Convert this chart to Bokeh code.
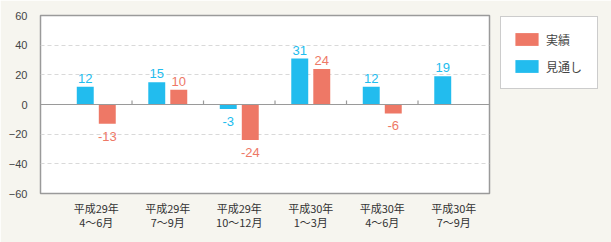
from bokeh.plotting import figure
from bokeh.models import (Range1d, FixedTicker, ColumnDataSource, Span, Legend,
                          LegendItem, LinearAxis)
from bokeh.core.properties import value
from bokeh.embed import file_html
from bokeh.resources import INLINE

# Quarterly survey: forecast (見通し) vs actual (実績)
periods = ["平成29年\n4～6月", "平成29年\n7～9月", "平成29年\n10～12月",
           "平成30年\n1～3月", "平成30年\n4～6月", "平成30年\n7～9月"]
forecast = [12, 15, -3, 31, 12, 19]
actual = [-13, 10, -24, 24, -6, None]
y_ticks = [-60, -40, -20, 0, 20, 40, 60]

BLUE = "#22bcee"
RED = "#ee7866"
BG = "#f6f5ef"
FRAME = "#9a9a9a"
NUM_FONT = "Liberation Sans"
JP_FONT = "Noto Sans CJK JP"

n = len(periods)
centers = [i + 0.5 for i in range(n)]
offset = 0.154
bar_w = 0.237

p = figure(frame_width=449, frame_height=178, output_backend="svg", toolbar_location=None,
           x_range=Range1d(-0.28, n), y_range=Range1d(-60, 60),
           x_axis_location=None, y_axis_location=None,
           min_border_left=40, min_border_right=122,
           min_border_top=15, min_border_bottom=49)
p.background_fill_color = "white"
p.border_fill_color = BG
p.outline_line_color = FRAME
p.outline_line_width = 1.5

# grid: dashed lines at +-20/+-40 only
p.xgrid.visible = False
p.ygrid.ticker = FixedTicker(ticks=[-40, -20, 20, 40])
p.ygrid.grid_line_color = "#d9d9d9"
p.ygrid.grid_line_dash = "4 3"

# y axis labels
yax = LinearAxis(ticker=FixedTicker(ticks=y_ticks))
yax.axis_line_color = None
yax.major_tick_line_color = None
yax.minor_tick_line_color = None
yax.major_label_standoff = 7
yax.major_label_text_font = NUM_FONT
yax.major_label_text_font_size = "11px"
yax.major_label_text_color = "#444444"
p.add_layout(yax, "left")

# x axis: two-line period labels
xax = LinearAxis(ticker=FixedTicker(ticks=centers))
xax.major_label_overrides = {c: lab for c, lab in zip(centers, periods)}
xax.axis_line_color = None
xax.major_tick_line_color = None
xax.minor_tick_line_color = None
xax.major_label_standoff = 0
xax.major_label_text_font = JP_FONT
xax.major_label_text_font_size = "11px"
xax.major_label_text_line_height = 0.9
xax.major_label_text_color = "#333333"
p.add_layout(xax, "below")

# zero line with small category separators
p.add_layout(Span(location=0, dimension="width", line_color=FRAME, line_width=1.2))
seps = [float(i) for i in range(1, n)]
p.segment(x0=seps, y0=[0] * len(seps), x1=seps, y1=[2.7] * len(seps),
          line_color=FRAME, line_width=1.2)

# bars
fx = [c - offset for c in centers]
ax_ = [c + offset for i, c in enumerate(centers) if actual[i] is not None]
av = [v for v in actual if v is not None]

fsrc = ColumnDataSource(dict(x=fx, top=forecast))
asrc = ColumnDataSource(dict(x=ax_, top=av))

rf = p.vbar(x="x", top="top", bottom=0, width=bar_w, source=fsrc,
            fill_color=BLUE, line_color=None)
ra = p.vbar(x="x", top="top", bottom=0, width=bar_w, source=asrc,
            fill_color=RED, line_color=None)

# value labels above positive bars, below negative ones
def add_labels(xs, vals, color):
    pos = [(x, v) for x, v in zip(xs, vals) if v >= 0]
    neg = [(x, v) for x, v in zip(xs, vals) if v < 0]
    if pos:
        p.text(x=[a for a, _ in pos], y=[b for _, b in pos], text=[str(b) for _, b in pos],
               text_align="center", text_baseline="bottom", y_offset=-4,
               text_font=value(NUM_FONT), text_font_size="13px", text_color=color)
    if neg:
        p.text(x=[a for a, _ in neg], y=[b for _, b in neg], text=[str(b) for _, b in neg],
               text_align="center", text_baseline="top", y_offset=8,
               text_font=value(NUM_FONT), text_font_size="13px", text_color=color)

add_labels(fx, forecast, BLUE)
add_labels(ax_, av, RED)

# legend box in the right-hand panel
legend = Legend(items=[LegendItem(label="実績", renderers=[ra]),
                       LegendItem(label="見通し", renderers=[rf])],
                location=(11, 104))
legend.border_line_color = FRAME
legend.border_line_width = 1.5
legend.background_fill_color = "white"
legend.background_fill_alpha = 1
legend.padding = 11
legend.margin = 0
legend.spacing = 5
legend.glyph_width = 29
legend.glyph_height = 16
legend.label_height = 22
legend.label_width = 40
legend.label_standoff = 5
legend.label_text_font = JP_FONT
legend.label_text_font_size = "12px"
legend.label_text_color = "#444444"
p.add_layout(legend, "right")

open("out.html", "w").write(file_html(p, INLINE))
